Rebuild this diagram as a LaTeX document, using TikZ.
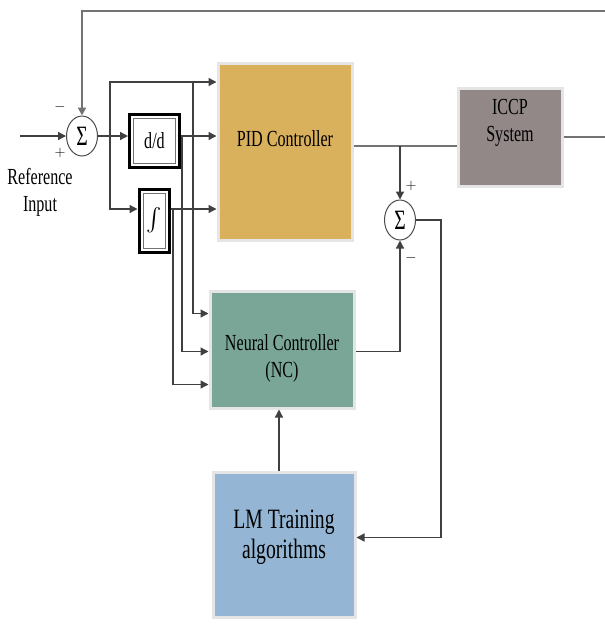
\documentclass[tikz,border=0pt]{standalone}
\usepackage{fontspec}
\setmainfont{Liberation Serif}[FakeStretch=0.7]
\usepackage{xcolor}
\usepackage{tikz}
\usetikzlibrary{arrows.meta,positioning,shapes.geometric}

\definecolor{pidgold}{RGB}{217,176,92}
\definecolor{iccpgray}{RGB}{146,136,136}
\definecolor{ncteal}{RGB}{122,166,152}
\definecolor{lmblue}{RGB}{148,182,212}

\newcommand{\liftby}[2]{\raisebox{#1}[\height][\depth]{#2}}

\tikzset{
    blockbox/.style={draw=black!10, line width=3pt, inner sep=0pt, align=center},
    opbox/.style={draw=black, line width=3pt, fill=white, inner sep=0pt,
            path picture={\draw[black!55, line width=1pt]
                    ([shift={(4pt,-4pt)}]path picture bounding box.north west) rectangle
                    ([shift={(-4pt,4pt)}]path picture bounding box.south east);}},
    sumnode/.style={ellipse, draw=black!70, line width=1pt, fill=white,
            minimum width=31pt, minimum height=40pt, inner sep=0pt,
            font=\fontsize{28}{28}\selectfont},
    sig/.style={line width=1.3pt, draw=black!75},
    tip/.style={-{Triangle[length=8pt,width=8pt]}},
    arr/.style={sig, tip},
    mainline/.style={line width=2pt, draw=black!55},
    signlbl/.style={inner sep=0pt, font=\fontsize{14}{14}\selectfont}
}

\begin{document}
\begin{tikzpicture}[x=1pt,y=-1pt,font=\fontsize{23}{27}\selectfont]
    \useasboundingbox (0,0) rectangle (605,625);
    % blocks
    \node[blockbox, fill=pidgold, minimum width=134pt, minimum height=177pt] (pid) at (285,151.5) {\liftby{13pt}{PID Controller}};
    \node[blockbox, fill=iccpgray, minimum width=104pt, minimum height=98pt] (iccp) at (510,137) {\liftby{14pt}{\begin{tabular}{@{}c@{}}ICCP\\System\end{tabular}}};
    \node[blockbox, fill=ncteal, minimum width=144pt, minimum height=117pt] (nc) at (282,349.5) {\liftby{-9pt}{\begin{tabular}{@{}c@{}}Neural Controller\\(NC)\end{tabular}}};
    \node[blockbox, fill=lmblue, minimum width=142pt, minimum height=145pt, font=\fontsize{28}{30}\selectfont] (lm) at (284,544.5) {\liftby{7pt}{\begin{tabular}{@{}c@{}}LM Training\\algorithms\end{tabular}}};
    \node[opbox, minimum width=50pt, minimum height=53pt] (deriv) at (154.5,141) {d/d};
    \node[opbox, minimum width=30pt, minimum height=63pt] (integ) at (154,221) {\resizebox{!}{27pt}{$\int$}};
    \node[sumnode] (sumA) at (82,136) {Σ};
    \node[sumnode] (sumB) at (400,220) {Σ};
    % signs and labels
    \node[signlbl] (minA) at (60,107) {$-$};
    \node[signlbl] (plusA) at (60,153) {$+$};
    \node[signlbl] (plusB) at (411,186) {$+$};
    \node[signlbl] (minB) at (411,258) {$-$};
    \node[align=center, inner sep=0pt] (refin) at (40,192) {Reference\\Input};
    % branch points
    \coordinate (refstart) at (20,136);
    \coordinate (split) at (110,136);
    \coordinate (splittop) at (110,82);
    \coordinate (splitbot) at (110,209);
    \coordinate (tap1) at (193,82);
    \coordinate (tap2) at (182,136);
    \coordinate (tap3) at (173,209);
    \coordinate (pidtap) at (400,146);
    \coordinate (fbout) at (605,11);
    \coordinate (plantout) at (605,137);
    % connectors
    \draw[arr] (refstart) -- (sumA.west);
    \draw[mainline, tip] (fbout) -| (sumA.north);
    \draw[arr] (sumA.east) -- (sumA.east -| deriv.west);
    \draw[arr] (split) -- (splittop) -- (splittop -| pid.west);
    \draw[arr] (split) -- (splitbot) -- (splitbot -| integ.west);
    \draw[arr] (deriv.east |- split) -- (pid.west |- split);
    \draw[arr] (integ.east |- splitbot) -- (pid.west |- splitbot);
    \foreach \tap/\dy in {tap1/36,tap2/-2,tap3/-35} {
            \draw[arr] (\tap) |- ([yshift=\dy pt]nc.west);
        }
    \draw[mainline] (pid.east |- pidtap) -- (iccp.west |- pidtap);
    \draw[mainline] (iccp.east) -- (plantout);
    \draw[arr] (pidtap) -- (sumB.north);
    \draw[arr] ([yshift=-2pt]nc.east) -| (sumB.south);
    \draw[arr] (sumB.east) -- ++(25,0) |- ([yshift=7pt]lm.east);
    \draw[arr] ([xshift=-5pt]lm.north) -- ([xshift=-5pt]lm.north |- nc.south);
\end{tikzpicture}
\end{document}
